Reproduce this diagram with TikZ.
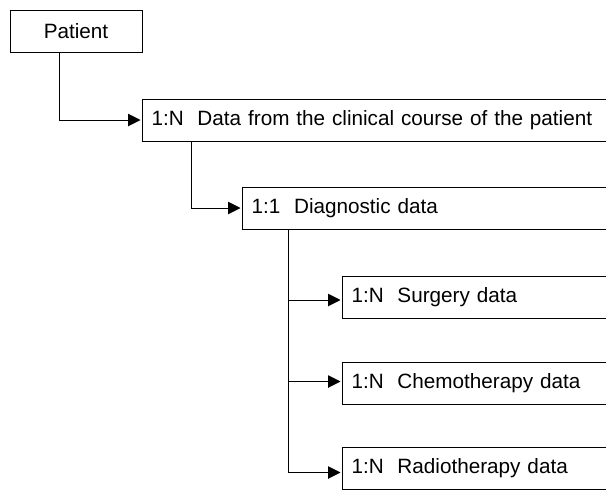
\documentclass[tikz,border=0pt]{standalone}
\usepackage{fontspec}
\setmainfont{Liberation Sans}
\usetikzlibrary{arrows.meta}
\tikzset{
  x=1pt, y=-1pt,
  boxbase/.style={draw, line width=1pt, inner ysep=0pt, minimum height=42pt,
    font=\fontsize{20.7}{25}\selectfont},
  openbox/.style={boxbase, anchor=west, inner xsep=9pt, text width=520pt, align=left},
  arr/.style={line width=1pt, -{Triangle[length=12.5pt,width=12.5pt]}, shorten >=1.5pt},
}
\begin{document}
\begin{tikzpicture}
\path[use as bounding box] (0,0) rectangle (606,491);
\clip (0,0) rectangle (606,491);
\node[boxbase, minimum width=132pt, inner xsep=0pt] (patient) at (76,31.5) {Patient};
\node[openbox] (data) at (142,120) {1:N\ \ Data from the clinical course of the patient};
\node[openbox] (diag) at (242,208) {1:1\ \ Diagnostic data};
\node[openbox] (surg) at (342,297) {1:N\ \ Surgery data};
\node[openbox] (chemo) at (342,383) {1:N\ \ Chemotherapy data};
\node[openbox] (radio) at (342,468.5) {1:N\ \ Radiotherapy data};
\draw[arr] ([xshift=-17pt]patient.south) |- (data.west);
\draw[arr] ([xshift=49pt]data.south west) |- (diag.west);
\draw[arr] ([xshift=46pt]diag.south west) |- ([yshift=-3pt]surg.west);
\draw[arr] ([xshift=46pt]diag.south west) |- ([yshift=1.5pt]chemo.west);
\draw[arr] ([xshift=46pt]diag.south west) |- ([yshift=-4pt]radio.west);
\end{tikzpicture}
\end{document}
